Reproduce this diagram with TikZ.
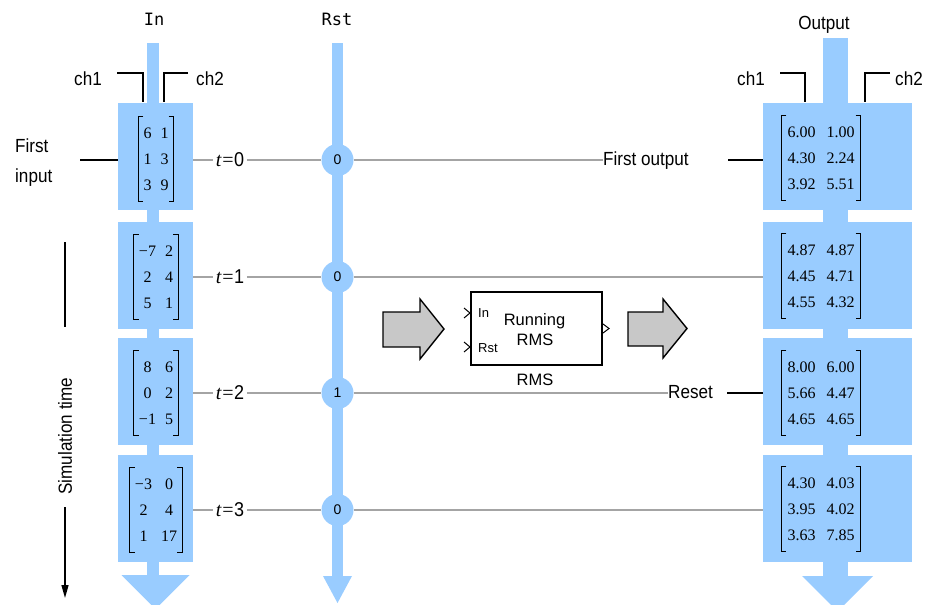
\documentclass[tikz,border=0pt]{standalone}
\usepackage{fontspec}
\setmainfont{Liberation Serif}
\newfontfamily\narrowfont[FakeStretch=0.9]{Liberation Sans}
\newfontfamily\blockfont{Liberation Sans}
\newfontfamily\monofont{DejaVu Sans Mono}
\usetikzlibrary{arrows.meta,matrix}
\definecolor{flow}{HTML}{99CCFF}
\definecolor{wirec}{HTML}{A4A4A4}
\definecolor{barrowc}{HTML}{C8C8C8}
\newcommand\mxbr[1]{%
  \draw[brk] ([xshift=5pt]#1.north west) -- (#1.north west) -- (#1.south west) -- ([xshift=5pt]#1.south west);
  \draw[brk] ([xshift=-5pt]#1.north east) -- (#1.north east) -- (#1.south east) -- ([xshift=-5pt]#1.south east);}
\begin{document}
\begin{tikzpicture}[x=1pt,y=-1pt,
  flowbox/.style={fill=flow, draw=none, minimum height=107pt, inner sep=0pt},
  wire/.style={draw=wirec, line width=1.8pt},
  blk/.style={draw=black, line width=1.4pt},
  brk/.style={draw=black, line width=1.3pt},
  lbl/.style={font=\narrowfont\fontsize{19}{30}\selectfont, inner sep=0pt},
  tlbl/.style={font=\fontsize{20}{22}\selectfont, inner sep=2.5pt},
  mxL/.style={matrix of nodes, nodes={inner sep=0pt, text height=10.5pt, text depth=0pt, font=\fontsize{16}{18}\selectfont}, row sep=15.5pt, column sep=9pt, inner ysep=11pt, inner xsep=5pt},
  mxR/.style={matrix of nodes, nodes={inner sep=0pt, text height=10.5pt, text depth=0pt, font=\fontsize{16}{18}\selectfont}, row sep=15.5pt, column sep=11pt, inner ysep=11pt, inner xsep=6pt},
  rstc/.style={circle, fill=flow, minimum size=32pt, inner sep=0pt, font=\blockfont\fontsize{14}{16}\selectfont},
  barrow/.style={fill=barrowc, draw=black, line width=1.4pt, line join=miter},
  bf/.style={font=\blockfont\fontsize{16.5}{18}\selectfont, inner sep=0pt, anchor=base},
  pf/.style={font=\blockfont\fontsize{13}{15}\selectfont, inner sep=0pt, anchor=base west},
  port/.style={draw=black, line width=1pt},
  mono/.style={font=\monofont\fontsize{17}{19}\selectfont, inner sep=0pt},
]
\useasboundingbox (0,0) rectangle (940,605);
\fill[white] (0,0) rectangle (940,605);

% ---- column titles
\node[mono] (tIn) at (154,19) {In};
\node[mono] (tRst) at (337,19) {Rst};
\node[lbl, anchor=base] (tOut) at (824,29) {Output};

% ---- flows (stems and heads)
\fill[flow] (147,43) rectangle (159,577);
\fill[flow] (121.5,575) -- (189.5,575) -- (159.5,605) -- (151.5,605) -- cycle;
\fill[flow] (332,43) rectangle (343,577);
\fill[flow] (323,576) -- (352,576) -- (337.5,603) -- cycle;
\fill[flow] (823,38) rectangle (848,577);
\fill[flow] (802,576) -- (873,576) -- (844,605) -- (831,605) -- cycle;

% ---- boxes
\foreach \i/\c in {0/156,1/275,2/391.5,3/508.5} {
  \node[flowbox, minimum width=75pt] (bL\i) at (155.5,\c) {};
  \node[flowbox, minimum width=149pt] (bR\i) at (837.5,\c) {};
}

% ---- input matrices
\matrix (mL0) [mxL] at (156,159) { 6 & 1 \\ 1 & 3 \\ 3 & 9 \\ };
\matrix (mL1) [mxL] at (156,277) { −7 & 2 \\ 2 & 4 \\ 5 & 1 \\ };
\matrix (mL2) [mxL] at (156,393) { 8 & 6 \\ 0 & 2 \\ −1 & 5 \\ };
\matrix (mL3) [mxL] at (156,510) { −3 & 0 \\ 2 & 4 \\ 1 & 17 \\ };
\mxbr{mL0}\mxbr{mL1}\mxbr{mL2}\mxbr{mL3}

% ---- output matrices
\matrix (mR0) [mxR] at (821,158) { 6.00 & 1.00 \\ 4.30 & 2.24 \\ 3.92 & 5.51 \\ };
\matrix (mR1) [mxR] at (821,276) { 4.87 & 4.87 \\ 4.45 & 4.71 \\ 4.55 & 4.32 \\ };
\matrix (mR2) [mxR] at (821,393) { 8.00 & 6.00 \\ 5.66 & 4.47 \\ 4.65 & 4.65 \\ };
\matrix (mR3) [mxR] at (821,509) { 4.30 & 4.03 \\ 3.95 & 4.02 \\ 3.63 & 7.85 \\ };
\mxbr{mR0}\mxbr{mR1}\mxbr{mR2}\mxbr{mR3}

% ---- time labels and reset circles
\foreach \i/\y/\r in {0/160/0,1/277/0,2/393/1,3/510/0} {
  \node[tlbl] (t\i) at (230,\y) {\textit{t}\kern0.5pt=\kern0.5pt{\narrowfont \i}};
  \node[rstc] (c\i) at (337.5,\y) {\r};
  \draw[wire] (bL\i.east |- t\i) -- (t\i.west);
  \draw[wire] (t\i.east) -- (c\i.west);
}

% ---- right-side labels
\node[lbl, anchor=base west] (fo) at (603,165) {First output};
\coordinate (foA) at (728,160);
\node[lbl, anchor=base west] (rs) at (668,398) {Reset};
\coordinate (rsA) at (727,393);
\draw[wire] (c0.east) -- (c0.east -| fo.west);
\draw[blk] (foA) -- (bR0.west |- foA);
\draw[wire] (c1.east) -- (bR1.west |- c1);
\draw[wire] (c2.east) -- (c2.east -| rs.west);
\draw[blk] (rsA) -- (bR2.west |- rsA);
\draw[wire] (c3.east) -- (bR3.west |- c3);

% ---- first input
\node[lbl, align=left, anchor=west] (fi) at (15,163) {First\\input};
\coordinate (fiA) at (80,160);
\draw[blk] (fiA) -- (bL0.west |- fiA);

% ---- channel labels
\node[lbl] (lch1) at (88,79) {ch1};
\node[lbl] (lch2) at (210,79) {ch2};
\coordinate (a1) at (117,73); \coordinate (k1) at (143,102);
\coordinate (a2) at (188,73); \coordinate (k2) at (164,102);
\draw[blk] (a1) -| (k1);
\draw[blk] (a2) -| (k2);
\node[lbl] (rch1) at (751,79) {ch1};
\node[lbl] (rch2) at (909,79) {ch2};
\coordinate (a3) at (780,73); \coordinate (k3) at (805,102);
\coordinate (a4) at (890,73); \coordinate (k4) at (865,102);
\draw[blk] (a3) -| (k3);
\draw[blk] (a4) -| (k4);

% ---- simulation time
\node[lbl, rotate=90] (sim) at (65,436) {Simulation time};
\coordinate (s1) at (65,242); \coordinate (s2) at (65,327);
\coordinate (s3) at (65,507); \coordinate (s4) at (65,598);
\draw[blk] (s1) -- (s2);
\draw[blk, -{Triangle[length=13pt,width=7pt]}] (s3) -- (s4);

% ---- block arrows
\draw[barrow] (383,312) -- (420,312) -- (420,299) -- (444,329) -- (420,359) -- (420,347) -- (383,347) -- cycle;
\draw[barrow] (628,312) -- (663,312) -- (663,299) -- (687,328.5) -- (663,358) -- (663,346) -- (628,346) -- cycle;

% ---- Running RMS block
\node[draw=black, line width=1.4pt, fill=white, minimum width=131pt, minimum height=73pt, inner sep=0pt] (rms) at (536.5,328.5) {};
\node[bf] (run) at (534.5,325) {Running};
\node[bf] (rmsi) at (535,345) {RMS};
\node[pf] (pin) at (478,317) {In};
\node[pf] (prst) at (478,352) {Rst};
\node[bf] (rmsl) at (535,385) {RMS};
\draw[port] (464,308) -- (470,313) -- (464,318);
\draw[port] (464,342) -- (470,347) -- (464,352);
\draw[port] (603,324) -- (609,328.5) -- (603,333);
\end{tikzpicture}
\end{document}
